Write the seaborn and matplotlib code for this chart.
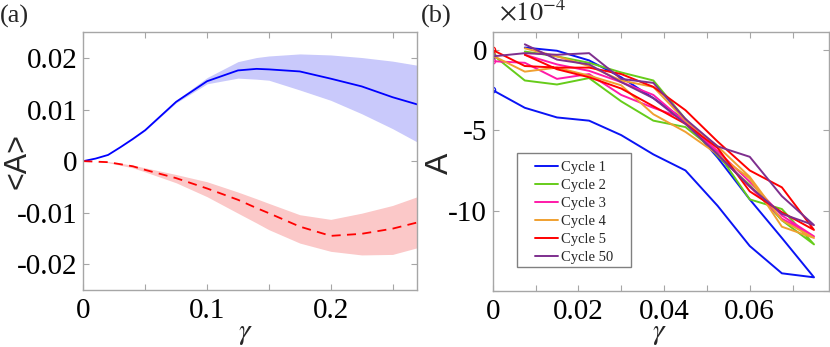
import numpy as np
import pandas as pd
import seaborn as sns
import matplotlib.pyplot as plt
from matplotlib.patches import Rectangle
from matplotlib.legend_handler import HandlerLine2D

# ---- panel (a): mean asymmetry with spread ----
gamma_a = [0, 0.01, 0.02, 0.03, 0.04, 0.05, 0.075, 0.1, 0.125, 0.14,
           0.15, 0.175, 0.2, 0.225, 0.25, 0.27]
blue_mean = [0, 0.0005, 0.0012, 0.0027, 0.0043, 0.006, 0.0115, 0.0155,
             0.0176, 0.0179, 0.0178, 0.0174, 0.016, 0.0145, 0.0124, 0.011]
blue_hi = [0, 0.0005, 0.0012, 0.0027, 0.0044, 0.0061, 0.0118, 0.0162,
           0.0193, 0.0201, 0.0204, 0.0208, 0.0206, 0.0201, 0.0194, 0.0186]
blue_lo = [0, 0.0005, 0.0012, 0.0027, 0.0042, 0.0059, 0.0113, 0.0150,
           0.0161, 0.0159, 0.0157, 0.0138, 0.0118, 0.0092, 0.0063, 0.0037]
red_mean = [0, -0.0001, -0.0002, -0.0006, -0.001, -0.0017, -0.0033,
            -0.0053, -0.0075, -0.0091, -0.0101, -0.0127, -0.0145, -0.0141,
            -0.0131, -0.0119]
red_hi = [0, -0.0001, -0.0001, -0.0004, -0.0008, -0.0013, -0.0026, -0.004,
          -0.006, -0.0073, -0.0082, -0.0104, -0.0113, -0.0101, -0.0086,
          -0.0069]
red_lo = [0, -0.0001, -0.0003, -0.0008, -0.0013, -0.0021, -0.0042, -0.0069,
          -0.0101, -0.012, -0.0133, -0.0159, -0.0175, -0.0182, -0.0181,
          -0.0168]

# ---- panel (b): A over loading / unloading, units of 1e-4 ----
gamma_fwd = [0, 0.0075, 0.015, 0.0225, 0.03, 0.0375, 0.045, 0.0525, 0.06,
             0.0675, 0.075]
gamma_back = [0.0675, 0.06, 0.0525, 0.045, 0.0375, 0.03, 0.0225, 0.015,
              0.0075]
cycles = ['Cycle 1', 'Cycle 2', 'Cycle 3', 'Cycle 4', 'Cycle 5', 'Cycle 50']
a_fwd = {
    'Cycle 1': [-2.5, -3.6, -4.2, -4.4, -5.3, -6.5, -7.5, -9.7, -12.2, -13.9,
                -14.15],
    'Cycle 2': [-0.3, -1.9, -2.15, -1.75, -3.2, -4.4, -4.8, -6.4, -9.3, -9.9,
                -12.1],
    'Cycle 3': [-0.7, -0.8, -1.8, -1.5, -2.8, -3.6, -4.3, -6.5, -8.5, -10.5,
                -11.6],
    'Cycle 4': [-0.35, -1.35, -1.1, -1.6, -2.2, -4.0, -5.1, -6.5, -8.0, -11.0,
                -11.7],
    'Cycle 5': [0, -1.0, -1.1, -1.1, -1.5, -2.3, -3.75, -5.7, -7.5, -8.55,
                -11.2],
    'Cycle 50': [-0.4, -0.2, -0.3, -0.2, -1.8, -2.05, -4.3, -6.0, -6.65, -9.1,
                 -10.9],
}
a_back = {
    'Cycle 1': [-11.7, -9.3, -6.7, -4.4, -3.0, -1.7, -0.65, -0.05, 0.15],
    'Cycle 2': [-10.6, -8.4, -6.6, -4.3, -1.9, -1.4, -0.8, -0.4, -0.1],
    'Cycle 3': [-10.3, -8.2, -6.3, -4.5, -2.8, -2.0, -1.3, -0.9, -0.3],
    'Cycle 4': [-10.6, -7.9, -6.0, -4.4, -2.3, -1.9, -1.0, -0.4, 0.1],
    'Cycle 5': [-10.1, -8.8, -6.1, -4.6, -3.5, -2.4, -1.7, -1.2, -0.3],
    'Cycle 50': [-10.2, -8.5, -6.5, -4.6, -3.0, -2.0, -0.9, -0.6, 0.35],
}
cycle_colors = ['#0a14f5', '#66cc1a', '#ff1aa8', '#f0a030', '#ff0000',
                '#7e2f8e']

sns.set_theme(style='ticks')
plt.rcParams['font.family'] = ['Liberation Serif', 'DejaVu Serif']
plt.rcParams['mathtext.fontset'] = 'stix'
plt.rcParams['axes.edgecolor'] = '#a6a6a6'
plt.rcParams['xtick.color'] = '#a6a6a6'
plt.rcParams['ytick.color'] = '#a6a6a6'
plt.rcParams['xtick.labelcolor'] = 'black'
plt.rcParams['ytick.labelcolor'] = 'black'


class RightLine(HandlerLine2D):
    # MATLAB-style legend: short line sitting right next to the label
    def create_artists(self, legend, orig_handle, xdescent, ydescent,
                       width, height, fontsize, trans):
        cut = 0.32 * width
        return super().create_artists(legend, orig_handle, xdescent - cut,
                                      ydescent, width - cut, height,
                                      fontsize, trans)


def style_axes(ax):
    ax.tick_params(direction='in', top=True, right=True, length=4,
                   width=0.8, labelsize=21)
    ax.tick_params(axis='x', pad=6)
    ax.tick_params(axis='y', pad=4)
    for s in ax.spines.values():
        s.set_linewidth(1.0)
        s.set_visible(True)


def panel_a(ax):
    ax.fill_between(gamma_a, blue_lo, blue_hi, color='#c9c9fb', lw=0)
    ax.fill_between(gamma_a, red_lo, red_hi, color='#fbc8c8', lw=0)
    df = pd.DataFrame({'gamma': gamma_a, 'blue': blue_mean, 'red': red_mean})
    sns.lineplot(data=df, x='gamma', y='blue', ax=ax, color='#0000ff',
                 lw=1.3)
    sns.lineplot(data=df, x='gamma', y='red', ax=ax, color='#ff0000',
                 lw=1.3, linestyle=(0, (5, 3.5)))
    ax.set_xlim(0, 0.27)
    ax.set_ylim(-0.025, 0.025)
    ax.set_xticks([0, 0.05, 0.1, 0.15, 0.2, 0.25])
    ax.set_xticklabels(['0', '', '0.1', '', '0.2', ''])
    ax.set_yticks([-0.02, -0.01, 0, 0.01, 0.02])
    ax.set_yticklabels(['-0.02', '-0.01', '0', '0.01', '0.02'])
    ax.set_xlabel(r'$\gamma$', fontsize=21)
    ax.set_ylabel('<A>', fontsize=22, family='Liberation Sans')
    ax.xaxis.set_label_coords(0.484, -0.12)
    ax.yaxis.set_label_coords(-0.152, 0.5)
    style_axes(ax)


def panel_b(ax):
    rows = []
    for c in cycles:
        xs = gamma_fwd + gamma_back
        ys = a_fwd[c] + a_back[c]
        for i, (x, y) in enumerate(zip(xs, ys)):
            rows.append({'cycle': c, 'order': i, 'gamma': x, 'A': y})
    df = pd.DataFrame(rows)
    sns.lineplot(data=df, x='gamma', y='A', hue='cycle', hue_order=cycles,
                 palette=cycle_colors, sort=False, estimator=None, lw=1.4,
                 ax=ax)
    starts = pd.DataFrame({'cycle': cycles,
                           'gamma': [gamma_fwd[0]] * len(cycles),
                           'A': [a_fwd[c][0] for c in cycles]})
    sns.scatterplot(data=starts, x='gamma', y='A', hue='cycle',
                    hue_order=cycles, palette=cycle_colors, marker='o', s=18,
                    facecolor='none', linewidth=0.9, legend=False, ax=ax)
    for coll in ax.collections:
        coll.set_facecolor('none')
        coll.set_edgecolors(cycle_colors)
    ax.set_xlim(0, 0.0785)
    ax.set_ylim(-15, 1.1)
    ax.set_xticks([0, 0.01, 0.02, 0.03, 0.04, 0.05, 0.06, 0.07])
    ax.set_xticklabels(['0', '', '0.02', '', '0.04', '', '0.06', ''])
    ax.set_yticks([-15, -10, -5, 0])
    ax.set_yticklabels(['', '-10', '-5', '0'])
    ax.set_xlabel(r'$\gamma$', fontsize=21)
    ax.set_ylabel('A', fontsize=23, family='Liberation Sans')
    ax.xaxis.set_label_coords(0.497, -0.116)
    ax.yaxis.set_label_coords(-0.112, 0.495)
    ax.text(0.02, 1.025, r'$\times10^{-4}$', transform=ax.transAxes,
            fontsize=19, ha='left', va='bottom')

    # legend frame drawn separately so it can be wider than its contents
    box = Rectangle((0.071, 0.093), 0.34, 0.44, transform=ax.transAxes,
                    facecolor='white', edgecolor='#808080', lw=1.0,
                    zorder=4.5)
    ax.add_patch(box)
    handles, labels = ax.get_legend_handles_labels()
    ax.legend(handles, labels, loc='upper left',
              bbox_to_anchor=(0.071, 0.533), fontsize=10.5, frameon=False,
              handlelength=2.3, handletextpad=0.2, borderpad=0.55,
              labelspacing=0.33, borderaxespad=0,
              handler_map={h: RightLine() for h in handles})
    style_axes(ax)


def main():
    fig = plt.figure(figsize=(8.3, 3.47), dpi=100)
    ax_a = fig.add_axes([0.1004, 0.1643, 0.4024, 0.7427])
    ax_b = fig.add_axes([0.5936, 0.1614, 0.4052, 0.7456])
    panel_a(ax_a)
    panel_b(ax_b)
    fig.text(0.0, 0.952, '(a)', fontsize=19, va='center')
    fig.text(0.507, 0.952, '(b)', fontsize=19, va='center')
    fig.savefig('out.png', dpi=100)


if __name__ == '__main__':
    main()
